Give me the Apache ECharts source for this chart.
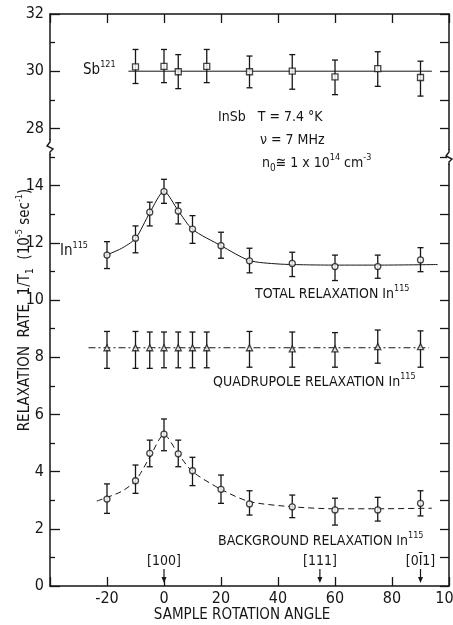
<!DOCTYPE html>
<html>
<head>
<meta charset="utf-8">
<script src="https://cdn.jsdelivr.net/npm/echarts@6/dist/echarts.min.js"></script>
<style>
  html, body { margin: 0; padding: 0; background: #fff; }
  #chart { width: 453px; height: 625px; }
</style>
</head>
<body>
<div id="chart"></div>
<script>
// sample rotation angle (deg) and relaxation rate 1/T1 (10^-5 sec^-1)
const sbAngles = [-10, 0, 5, 15, 30, 45, 60, 75, 90];
const sbRate = [30.15, 30.17, 29.98, 30.17, 29.98, 30.0, 29.8, 30.09, 29.78];
const sbLow  = [29.57, 29.6, 29.39, 29.6, 29.42, 29.37, 29.18, 29.47, 29.13];
const sbHigh = [30.76, 30.76, 30.58, 30.76, 30.53, 30.58, 30.39, 30.68, 30.35];
const sbFitX = [-12.5, 94];
const sbFitY = [30, 30];

const inAngles = [-20, -10, -5, 0, 5, 10, 20, 30, 45, 60, 75, 90];
const totalRate = [11.57, 12.16, 13.07, 13.79, 13.11, 12.48, 11.9, 11.37, 11.28, 11.17, 11.17, 11.4];
const totalLow  = [11.1, 11.65, 12.59, 13.38, 12.66, 11.98, 11.46, 10.95, 10.82, 10.68, 10.76, 10.99];
const totalHigh = [12.04, 12.59, 13.42, 14.22, 13.4, 12.95, 12.37, 11.81, 11.67, 11.57, 11.57, 11.83];
const totalFitX = [-21, -15, -10, -5, 0, 5, 10, 20, 30, 40, 50, 60, 75, 96];
const totalFitY = [11.54, 11.8, 12.15, 13.05, 13.8, 13.12, 12.47, 11.9, 11.38, 11.26, 11.23, 11.22, 11.22, 11.24];

const quadAngles = [-20, -10, -5, 0, 5, 10, 15, 30, 45, 60, 75, 90];
const quadRate = [8.33, 8.33, 8.33, 8.33, 8.33, 8.33, 8.33, 8.33, 8.29, 8.29, 8.37, 8.37];
const quadLow  = [7.61, 7.61, 7.61, 7.63, 7.63, 7.63, 7.63, 7.65, 7.65, 7.65, 7.79, 7.65];
const quadHigh = [8.9, 8.9, 8.88, 8.88, 8.88, 8.88, 8.88, 8.9, 8.88, 8.86, 8.95, 8.92];
const quadFitX = [-26.5, 93];
const quadFitY = [8.33, 8.33];

const bgRate = [3.04, 3.68, 4.64, 5.31, 4.62, 4.03, 3.38, 2.87, 2.77, 2.66, 2.66, 2.89];
const bgLow  = [2.54, 3.24, 4.17, 4.73, 4.17, 3.51, 2.89, 2.48, 2.39, 2.13, 2.27, 2.45];
const bgHigh = [3.57, 4.23, 5.1, 5.84, 5.1, 4.5, 3.88, 3.33, 3.18, 3.07, 3.1, 3.33];
const bgFitX = [-23.6, -15, -10, -5, 0, 5, 10, 20, 30, 45, 60, 75, 94];
const bgFitY = [2.97, 3.3, 3.68, 4.5, 5.3, 4.62, 4.0, 3.38, 2.95, 2.77, 2.7, 2.7, 2.72];

// crystal directions marked under the curves
const dirAngles = [0, 54.7, 90];
const dirLabels = ['[100]', '[111]', '[0\u012A1]'];

// broken y axis: 15.35 .. 27.35 is cut out
const breakLow = 15.35;
const breakHigh = 27.35;
const yTicks = [0, 2, 4, 6, 8, 10, 12, 14, 28, 30, 32];

const shift = breakHigh - breakLow;
function toAxis(v) { return v > breakLow ? v - shift : v; }
function fromAxis(a) { return a > breakLow - 0.5 ? Math.round(a + shift) : a; }

const ink = '#161616';
const font = '"Liberation Sans Narrow", "DejaVu Sans Condensed", sans-serif';

function pts(xs, ys) { return xs.map((x, i) => [x, toAxis(ys[i])]); }
function bars(xs, lo, hi) { return xs.map((x, i) => [x, toAxis(lo[i]), toAxis(hi[i])]); }

function errRender(params, api) {
  const x = api.value(0);
  const pLo = api.coord([x, api.value(1)]);
  const pHi = api.coord([x, api.value(2)]);
  const w = 3;
  const style = { stroke: ink, lineWidth: 1.3, fill: null };
  return {
    type: 'group',
    children: [
      { type: 'line', shape: { x1: pLo[0], y1: pLo[1], x2: pHi[0], y2: pHi[1] }, style: style },
      { type: 'line', shape: { x1: pLo[0] - w, y1: pLo[1], x2: pLo[0] + w, y2: pLo[1] }, style: style },
      { type: 'line', shape: { x1: pHi[0] - w, y1: pHi[1], x2: pHi[0] + w, y2: pHi[1] }, style: style }
    ]
  };
}

function errSeries(data) {
  return { type: 'custom', renderItem: errRender, data: data, z: 3, silent: true,
           encode: { x: 0, y: [1, 2] } };
}
function markSeries(data, symbol, size) {
  return { type: 'scatter', data: data, symbol: symbol, symbolSize: size, z: 5,
           itemStyle: { color: '#fff', borderColor: ink, borderWidth: 1.3 } };
}
function fitSeries(data, type, width, smooth) {
  return { type: 'line', data: data, symbol: 'none', smooth: smooth, z: 2,
           lineStyle: { color: ink, width: width, type: type } };
}

const axisLine = { onZero: false, lineStyle: { color: ink, width: 1.5 } };
const tickStyle = { color: ink, width: 1.3 };

const chart = echarts.init(document.getElementById('chart'));

const option = {
  backgroundColor: '#fff',
  animation: false,
  grid: { left: 50, right: 4, top: 14, bottom: 39, outerBoundsMode: 'none' },
  xAxis: [{
    type: 'value', min: -40, max: 100, interval: 20,
    axisLine: axisLine,
    axisTick: { inside: true, length: 9, lineStyle: tickStyle },
    axisLabel: { color: ink, fontSize: 16, fontFamily: font, margin: 5,
                 formatter: v => (v === -40 ? '' : String(v)) },
    splitLine: { show: false }
  }, {
    type: 'value', position: 'top', min: -40, max: 100, interval: 20,
    axisLine: axisLine,
    axisTick: { inside: true, length: 9, lineStyle: tickStyle },
    axisLabel: { show: false },
    splitLine: { show: false }
  }],
  yAxis: [{
    type: 'value', min: 0, max: 32 - shift, interval: 2,
    axisLine: axisLine,
    axisTick: { inside: true, length: 10, lineStyle: tickStyle },
    minorTick: { show: true, splitNumber: 2, length: 5, lineStyle: tickStyle },
    axisLabel: { color: ink, fontSize: 16, fontFamily: font, margin: 6,
                 formatter: a => { const v = fromAxis(a); return yTicks.indexOf(v) >= 0 ? String(v) : ''; } },
    splitLine: { show: false }
  }, {
    type: 'value', position: 'right', min: 0, max: 32 - shift, interval: 1,
    axisLine: axisLine,
    axisTick: { inside: true, length: 9, lineStyle: tickStyle },
    axisLabel: { show: false },
    splitLine: { show: false }
  }],
  series: [
    fitSeries(pts(sbFitX, sbFitY), 'solid', 1, false),
    fitSeries(pts(totalFitX, totalFitY), 'solid', 1, 0.25),
    fitSeries(pts(quadFitX, quadFitY), [7, 3, 2, 3], 1, false),
    fitSeries(pts(bgFitX, bgFitY), [6, 4], 1, 0.25),
    errSeries(bars(sbAngles, sbLow, sbHigh)),
    errSeries(bars(inAngles, totalLow, totalHigh)),
    errSeries(bars(quadAngles, quadLow, quadHigh)),
    errSeries(bars(inAngles, bgLow, bgHigh)),
    markSeries(pts(sbAngles, sbRate), 'rect', 6),
    markSeries(pts(inAngles, totalRate), 'circle', 6),
    markSeries(pts(quadAngles, quadRate), 'triangle', 6),
    markSeries(pts(inAngles, bgRate), 'circle', 6)
  ]
};
chart.setOption(option);

// annotations, placed from axis coordinates
function px(x, v) { return chart.convertToPixel({ xAxisIndex: 0, yAxisIndex: 0 }, [x, toAxis(v)]); }
const rich = {
  sup: { fontSize: 9, fontFamily: font, fill: ink, verticalAlign: 'top', lineHeight: 20 },
  sub: { fontSize: 10, fontFamily: font, fill: ink, verticalAlign: 'bottom', lineHeight: 16 }
};
function label(text, x, y, size, align) {
  return {
    type: 'text', x: x, y: y, z: 20,
    style: { text: text, fill: ink, fontSize: size, fontFamily: font, rich: rich,
             align: align || 'left', verticalAlign: 'middle', lineHeight: 20 }
  };
}

const g = [];
g.push(label('Sb{sup|121}', 83, 70, 15));
g.push(label('In{sup|115}', 60, 251, 15));
g.push(label('InSb   T = 7.4 \u00B0K', 218, 117, 14));
g.push(label('\u03BD = 7 MHz', 260, 140, 14));
g.push(label('n{sub|0}\u2245 1 x 10{sup|14} cm{sup|-3}', 262, 163, 14));
g.push(label('TOTAL RELAXATION In{sup|115}', 255, 294, 14));
g.push(label('QUADRUPOLE RELAXATION In{sup|115}', 213, 382, 14));
g.push(label('BACKGROUND RELAXATION In{sup|115}', 218, 541, 14));
g.push(label('SAMPLE ROTATION ANGLE', 242, 615, 15, 'center'));
g.push({
  type: 'text', x: 25, y: 310, rotation: Math.PI / 2, z: 20,
  style: { text: 'RELAXATION  RATE  1/T{sub|1}  (10{sup|-5} sec{sup|-1})', fill: ink, fontSize: 15,
           fontFamily: font, rich: rich, align: 'center', verticalAlign: 'middle', lineHeight: 20 }
});

// direction arrows
dirAngles.forEach((ang, i) => {
  const p = px(ang, 0);
  g.push(label(dirLabels[i], p[0], p[1] - 25, 14, 'center'));
  g.push({ type: 'line', z: 20, shape: { x1: p[0], y1: p[1] - 17, x2: p[0], y2: p[1] - 7 },
           style: { stroke: ink, lineWidth: 1.2 } });
  g.push({ type: 'polygon', z: 20, shape: { points: [[p[0] - 2.5, p[1] - 9], [p[0] + 2.5, p[1] - 9], [p[0], p[1] - 3]] },
           style: { fill: ink } });
});

// axis break marks
function squiggle(x, y) {
  g.push({ type: 'rect', z: 30, shape: { x: x - 2, y: y - 7, width: 4, height: 14 }, style: { fill: '#fff' } });
  g.push({ type: 'polyline', z: 31, shape: { points: [[x, y - 8], [x, y - 5], [x - 3, y - 1], [x + 3, y + 2], [x, y + 5], [x, y + 8]] },
           style: { stroke: ink, lineWidth: 1.4, fill: null } });
}
const left = px(-40, 0)[0];
const right = px(100, 0)[0];
squiggle(left, px(-40, breakLow)[1]);
squiggle(right, px(100, 15)[1]);

chart.setOption({ graphic: g });
</script>
</body>
</html>
